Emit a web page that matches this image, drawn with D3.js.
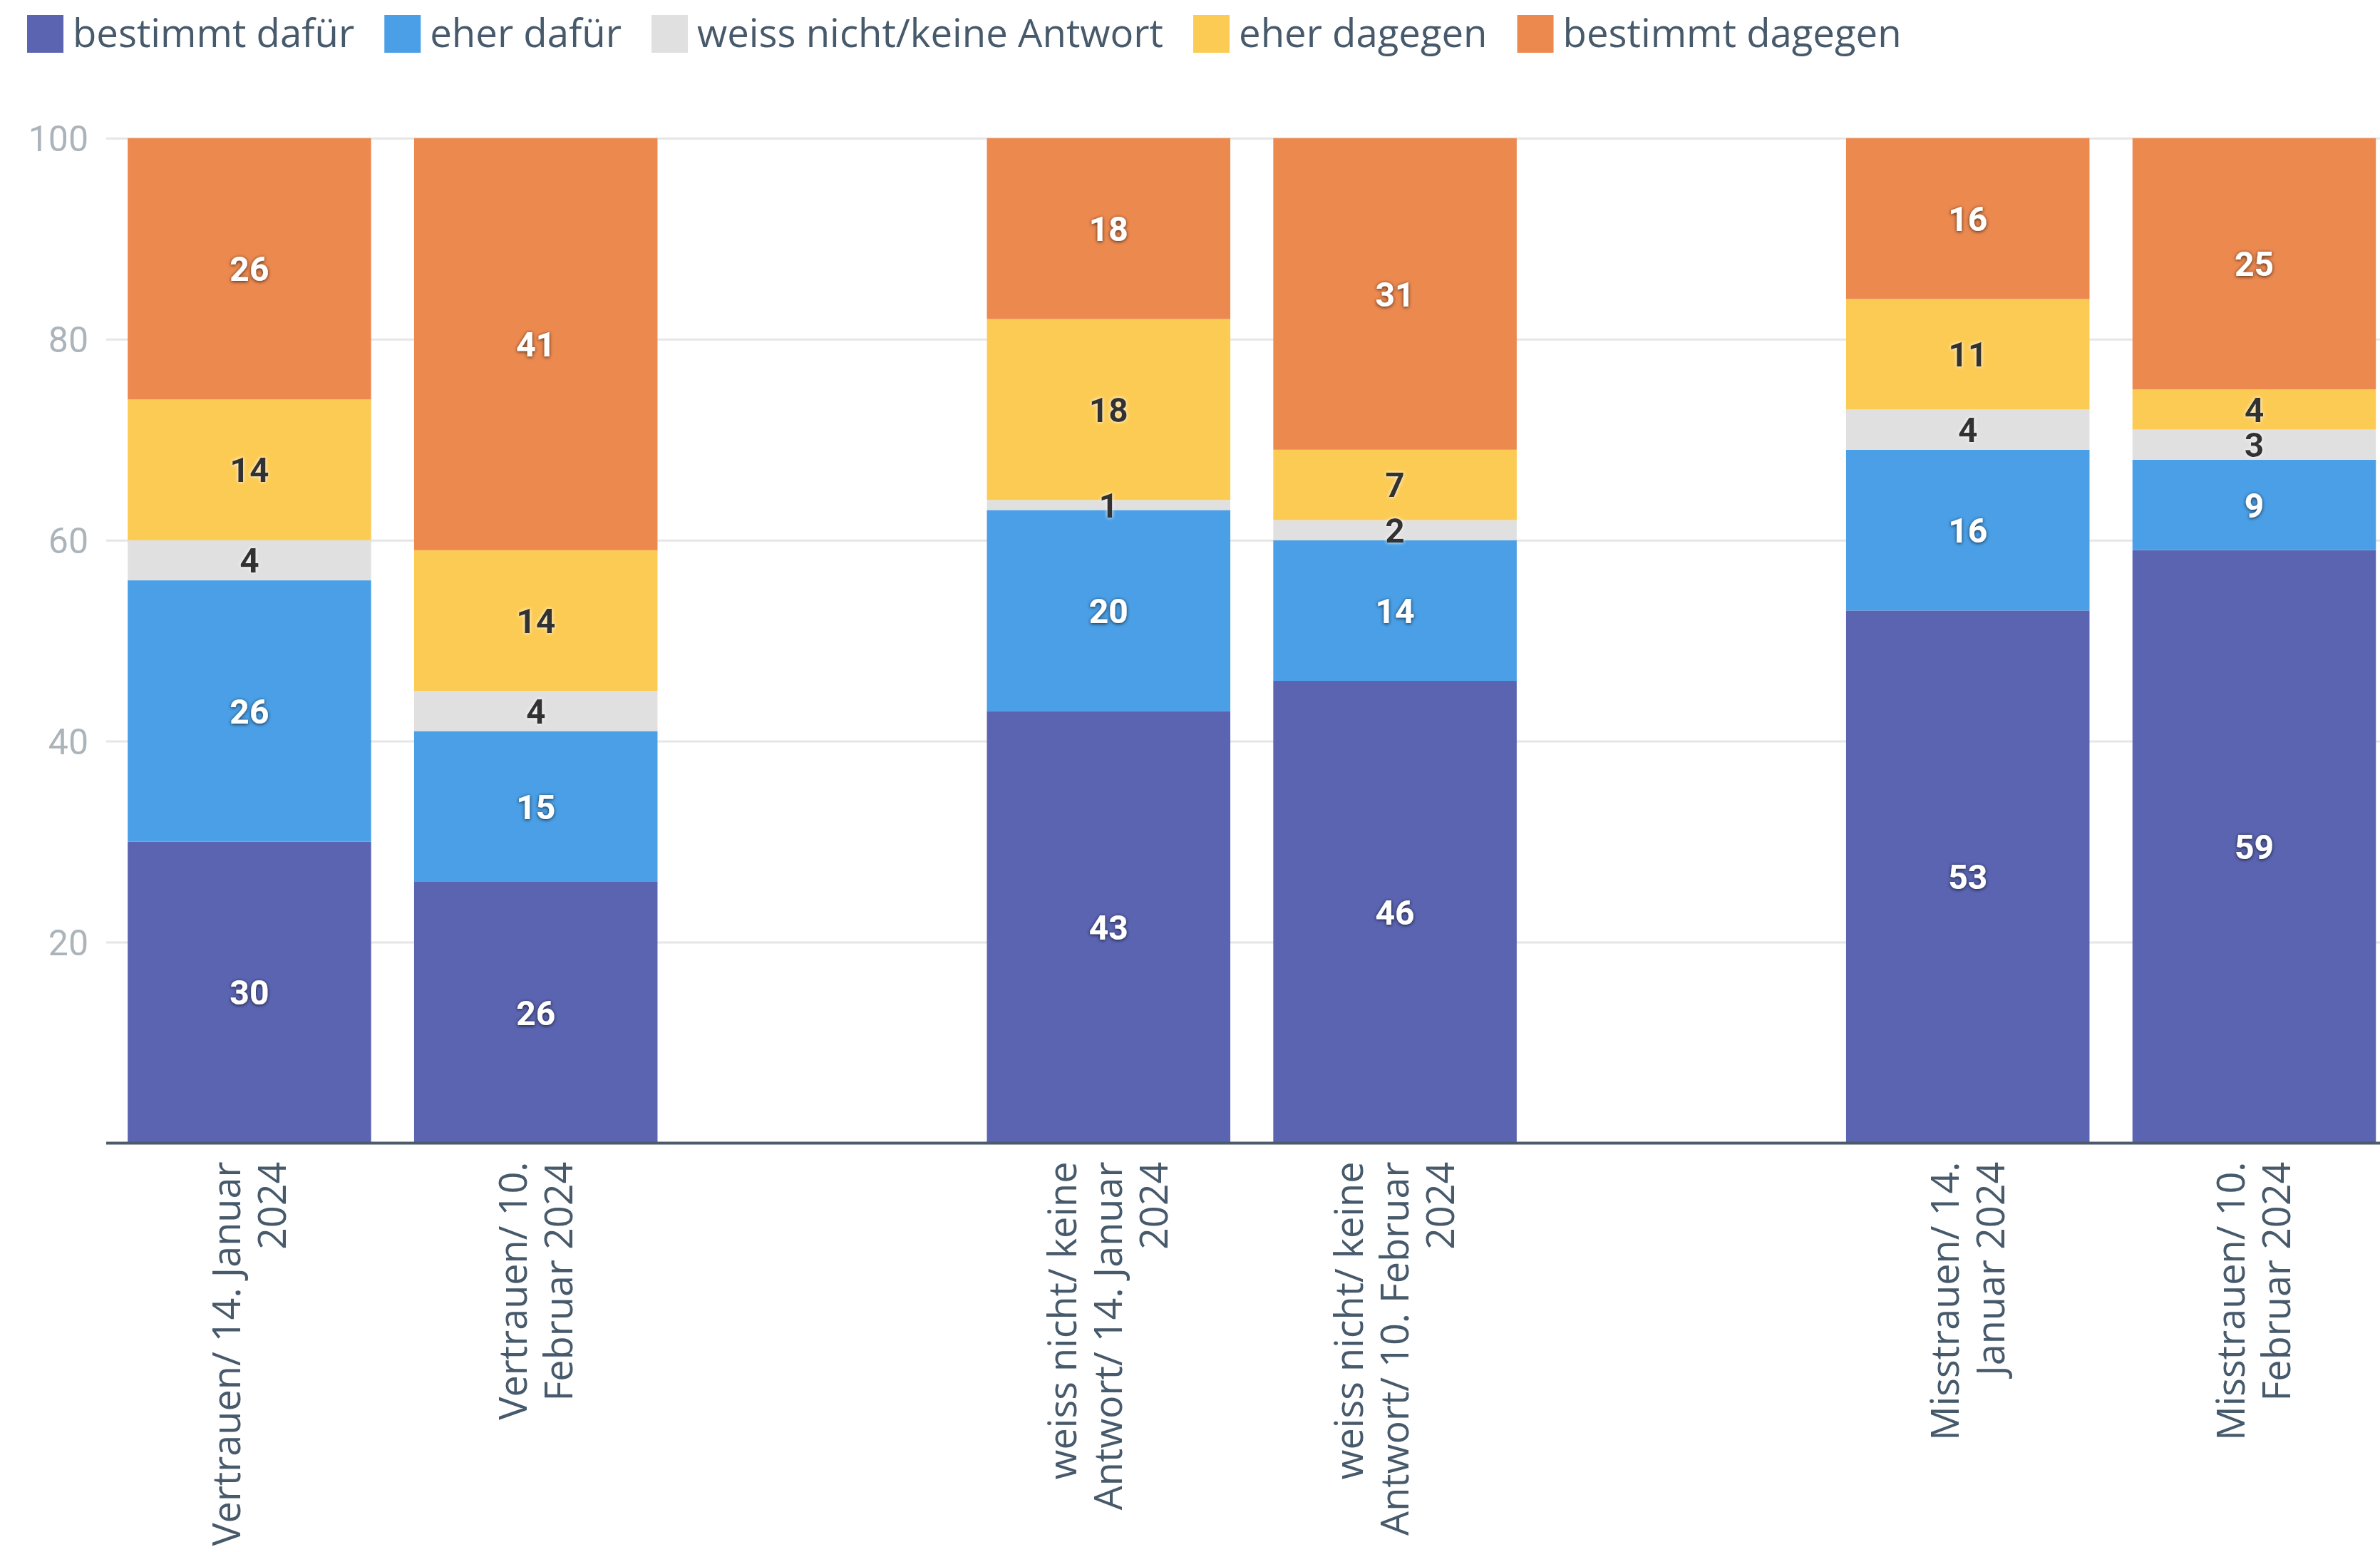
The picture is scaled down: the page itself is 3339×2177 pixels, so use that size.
<!DOCTYPE html>
<html><head><meta charset="utf-8">
<script src="https://cdn.jsdelivr.net/npm/d3@7"></script>
<style>body{margin:0;background:#fff;overflow:hidden}</style>
</head><body><svg id="c"></svg>
<script>
// ---- data ----
const categories = [
  "Vertrauen/ 14. Januar 2024",
  "Vertrauen/ 10. Februar 2024",
  "weiss nicht/ keine Antwort/ 14. Januar 2024",
  "weiss nicht/ keine Antwort/ 10. Februar 2024",
  "Misstrauen/ 14. Januar 2024",
  "Misstrauen/ 10. Februar 2024"
];
const categoryLines = [
  ["Vertrauen/ 14. Januar", "2024"],
  ["Vertrauen/ 10.", "Februar 2024"],
  ["weiss nicht/ keine", "Antwort/ 14. Januar", "2024"],
  ["weiss nicht/ keine", "Antwort/ 10. Februar", "2024"],
  ["Misstrauen/ 14.", "Januar 2024"],
  ["Misstrauen/ 10.", "Februar 2024"]
];
const slots = ["c0", "c1", "gapA", "c2", "c3", "gapB", "c4", "c5"];
const seriesNames = ["bestimmt dafür", "eher dafür", "weiss nicht/keine Antwort", "eher dagegen", "bestimmt dagegen"];
const bestimmtDafuer  = [30, 26, 43, 46, 53, 59];
const eherDafuer      = [26, 15, 20, 14, 16, 9];
const weissNicht      = [4, 4, 1, 2, 4, 3];
const eherDagegen     = [14, 14, 18, 7, 11, 4];
const bestimmtDagegen = [26, 41, 18, 31, 16, 25];
const yTicks = [20, 40, 60, 80, 100];
const seriesColors = ["#5A64B1", "#4A9FE6", "#E0E0E0", "#FCCB54", "#EC894F"];
const labelDark = [false, false, true, true, false];

// ---- build ----
const W = 3339, H = 2177;
const svg = d3.select("#c").attr("width", W).attr("height", H)
  .style("font-family", "'Open Sans', 'Noto Sans', sans-serif");

const defs = svg.append("defs");
const f1 = defs.append("filter").attr("id", "shDark").attr("x", "-50%").attr("y", "-50%").attr("width", "200%").attr("height", "200%");
f1.append("feDropShadow").attr("dx", 0).attr("dy", 1).attr("stdDeviation", 2.5).attr("flood-color", "#000").attr("flood-opacity", 0.75);
const f2 = defs.append("filter").attr("id", "shLight").attr("x", "-50%").attr("y", "-50%").attr("width", "200%").attr("height", "200%");
f2.append("feDropShadow").attr("dx", 0).attr("dy", 0).attr("stdDeviation", 2.5).attr("flood-color", "#fff").attr("flood-opacity", 1);

const seriesData = [bestimmtDafuer, eherDafuer, weissNicht, eherDagegen, bestimmtDagegen];
const rows = categories.map((c, i) => {
  const r = { slot: "c" + i };
  seriesNames.forEach((s, j) => r[s] = seriesData[j][i]);
  return r;
});

const x = d3.scaleBand().domain(slots).range([149, 149 + 8 * 401.8]).paddingInner(0.15).paddingOuter(0.075);
const y = d3.scaleLinear().domain([0, 100]).range([1603.5, 193.8]);

// grid
const grid = svg.append("g").attr("transform", "translate(149,0)")
  .call(d3.axisLeft(y).tickValues(yTicks).tickSize(-(W - 149)).tickFormat(""));
grid.select(".domain").remove();
grid.selectAll("line").attr("stroke", "#e6e6e6").attr("stroke-width", 3);

// y tick labels
const ya = svg.append("g").attr("transform", "translate(124,0)")
  .call(d3.axisLeft(y).tickValues(yTicks).tickSize(0).tickPadding(0));
ya.select(".domain").remove();
ya.selectAll("text").attr("font-size", 50).attr("fill", "#abb4ba").attr("font-family", "Roboto, sans-serif").attr("dy", "0.35em");

// bars
const stack = d3.stack().keys(seriesNames)(rows);
const groups = svg.append("g").selectAll("g").data(stack).join("g")
  .attr("fill", (d, i) => seriesColors[i]);
groups.selectAll("rect").data(d => d).join("rect")
  .attr("x", d => x(d.data.slot))
  .attr("width", x.bandwidth())
  .attr("y", d => y(d[1]))
  .attr("height", d => y(d[0]) - y(d[1]));

// value labels
stack.forEach((s, i) => {
  svg.append("g").selectAll("text").data(s).join("text")
    .attr("x", d => x(d.data.slot) + x.bandwidth() / 2)
    .attr("y", d => (y(d[0]) + y(d[1])) / 2)
    .attr("dy", "0.36em")
    .attr("text-anchor", "middle")
    .attr("font-size", 48)
    .attr("font-weight", 700)
    .attr("font-family", "Roboto, sans-serif")
    .attr("fill", labelDark[i] ? "#333333" : "#ffffff")
    .attr("filter", labelDark[i] ? "url(#shLight)" : "url(#shDark)")
    .text(d => d[1] - d[0]);
});

// x axis line
const xa = svg.append("g").attr("transform", `translate(0,${y(0)})`)
  .call(d3.axisBottom(x).tickSize(0).tickFormat(""));
xa.select(".domain").attr("d", `M149,0H${W}`).attr("stroke", "#4b5b6b").attr("stroke-width", 4);

// x labels (rotated, multi-line)
const lineH = 64;
categories.forEach((c, i) => {
  const cx = x("c" + i) + x.bandwidth() / 2;
  const lines = categoryLines[i];
  const n = lines.length;
  const t = svg.append("text")
    .attr("transform", `translate(${cx},${y(0) + 26}) rotate(-90)`)
    .attr("text-anchor", "end")
    .attr("font-size", 54)
    .attr("fill", "#475a6b");
  lines.forEach((ln, k) => {
    t.append("tspan").attr("x", 0).attr("y", (k - (n - 1) / 2) * lineH).attr("dy", "0.35em").text(ln);
  });
});

// legend
const lg = svg.append("g");
let lx = 38;
seriesNames.forEach((s, i) => {
  lg.append("rect").attr("x", lx).attr("y", 21).attr("width", 51).attr("height", 53).attr("fill", seriesColors[i]);
  const t = lg.append("text").attr("x", lx + 64).attr("y", 47).attr("dy", "0.35em")
    .attr("font-size", 54.5).attr("fill", "#475a6b").text(s);
  lx += 64 + t.node().getComputedTextLength() + 42;
});
</script>
</body></html>
